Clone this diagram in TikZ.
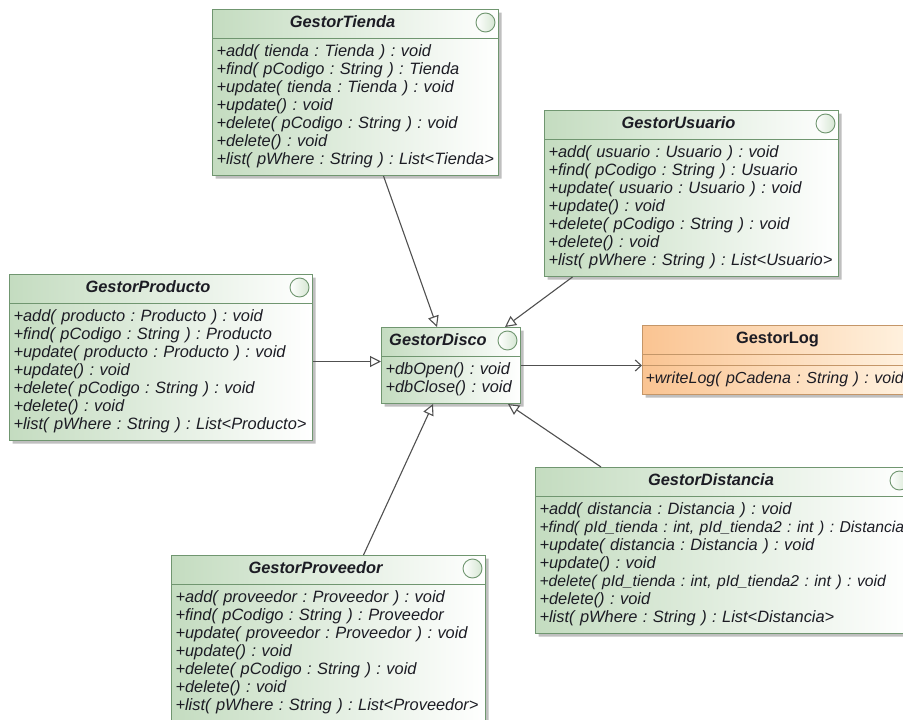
\documentclass[tikz,border=0pt]{standalone}
\usepackage{fontspec}
\setmainfont{Liberation Sans}
\usetikzlibrary{positioning,shapes.multipart,shadows,arrows.meta,calc}

\definecolor{clsline}{RGB}{112,150,112}
\definecolor{clsfill}{RGB}{196,220,192}
\definecolor{logline}{RGB}{196,150,104}
\definecolor{logfill}{RGB}{250,196,146}
\definecolor{logfill2}{RGB}{255,242,224}
\definecolor{txt}{RGB}{28,28,36}
\definecolor{conn}{RGB}{80,80,80}

\newcommand{\hdr}[1]{\hbox to \hsize{\strut\hfil\textbf{\textit{#1}}\hfil\hskip 26pt}}
\newcommand{\icon}[1]{\draw[clsline, line width=0.9pt, left color=white, right color=clsfill!70]
  ($(#1.north east)+(-13.5pt,-13.5pt)$) circle (9.5pt);}
\newcommand{\narrow}[1]{{\fontsize{15.7}{18}\selectfont #1}}

\begin{document}
\begin{tikzpicture}[x=1pt,y=-1pt]
        \tikzstyle{cls} = [rectangle split, rectangle split parts=2, anchor=north west,
          draw=clsline, line width=1pt, left color=clsfill, right color=white,
          inner xsep=4pt, inner ysep=5pt, align=left, text=txt,
          font=\fontsize{16.4}{18}\selectfont\itshape\frenchspacing,
          drop shadow={shadow xshift=3pt, shadow yshift=-3pt, fill=black, opacity=0.25}]
        \tikzstyle{gen} = [draw=conn, line width=1.1pt, -{Triangle[open, length=11pt, width=11pt, fill=white]}]
        \tikzstyle{assoc} = [draw=conn, line width=1.1pt, -{Straight Barb[length=6pt, width=11pt]}]
        \path[use as bounding box, clip] (0,0) rectangle (903,720);

        % classes
        \node[cls, text width=278pt] (tienda) at (212,9) {\hdr{GestorTienda}
          \nodepart{two}\strut+add( tienda : Tienda ) : void\\
          +find( pCodigo : String ) : Tienda\\
          +update( tienda : Tienda ) : void\\
          +update() : void\\
          +delete( pCodigo : String ) : void\\
          +delete() : void\\
          +list( pWhere : String ) : List<Tienda>\strut};
        \node[cls, text width=286pt] (usuario) at (544,110) {\hdr{GestorUsuario}
          \nodepart{two}\strut+add( usuario : Usuario ) : void\\
          +find( pCodigo : String ) : Usuario\\
          +update( usuario : Usuario ) : void\\
          +update() : void\\
          +delete( pCodigo : String ) : void\\
          +delete() : void\\
          +list( pWhere : String ) : List<Usuario>\strut};
        \node[cls, text width=295pt] (producto) at (9,274) {\hdr{GestorProducto}
          \nodepart{two}\strut+add( producto : Producto ) : void\\
          +find( pCodigo : String ) : Producto\\
          +update( producto : Producto ) : void\\
          +update() : void\\
          +delete( pCodigo : String ) : void\\
          +delete() : void\\
          +list( pWhere : String ) : List<Producto>\strut};
        \node[cls, text width=131pt] (disco) at (381,327) {\hdr{GestorDisco}
          \nodepart{two}\strut+dbOpen() : void\\
          +dbClose() : void\strut};
        \node[cls, rectangle split parts=3, draw=logline, left color=logfill, right color=logfill2,
          text width=262pt] (log) at (642,325)
          {\hbox to \hsize{\strut\hfil\textup{\textbf{GestorLog}}\hfil}
          \nodepart{two}
          \nodepart{three}\strut\hspace{-1pt}{\fontsize{16}{18}\selectfont +writeLog( pCadena : String ) : void}\strut};
        \node[cls, text width=369pt] (distancia) at (535,467) {\hdr{GestorDistancia}
          \nodepart{two}\strut+add( distancia : Distancia ) : void\\
          \mbox{\narrow{+find( pId\_tienda : int, pId\_tienda2 : int ) : Distancia}}\\
          +update( distancia : Distancia ) : void\\
          +update() : void\\
          \mbox{\narrow{+delete( pId\_tienda : int, pId\_tienda2 : int ) : void}}\\
          +delete() : void\\
          +list( pWhere : String ) : List<Distancia>\strut};
        \node[cls, text width=306pt] (proveedor) at (171,555) {\hdr{GestorProveedor}
          \nodepart{two}\strut+add( proveedor : Proveedor ) : void\\
          +find( pCodigo : String ) : Proveedor\\
          +update( proveedor : Proveedor ) : void\\
          +update() : void\\
          +delete( pCodigo : String ) : void\\
          +delete() : void\\
          +list( pWhere : String ) : List<Proveedor>\strut};

        \foreach \c in {tienda,usuario,producto,disco,distancia,proveedor}{\icon{\c}}

        % connectors
        \coordinate (dw) at ([yshift=4pt]disco.west);
        \draw[gen] ([xshift=28pt]tienda.south) -- ([xshift=-14pt]disco.north);
        \draw[gen] ([xshift=-119pt]usuario.south) -- ([xshift=54pt]disco.north);
        \draw[gen] (producto.east |- dw) -- (dw);
        \draw[gen] ([xshift=35pt]proveedor.north) -- ([xshift=-18pt]disco.south);
        \draw[gen] ([xshift=-123pt]distancia.north) -- ([xshift=57pt]disco.south);
        \draw[assoc] (disco.east) -- (disco.east -| log.west);
      \end{tikzpicture}
\end{document}
